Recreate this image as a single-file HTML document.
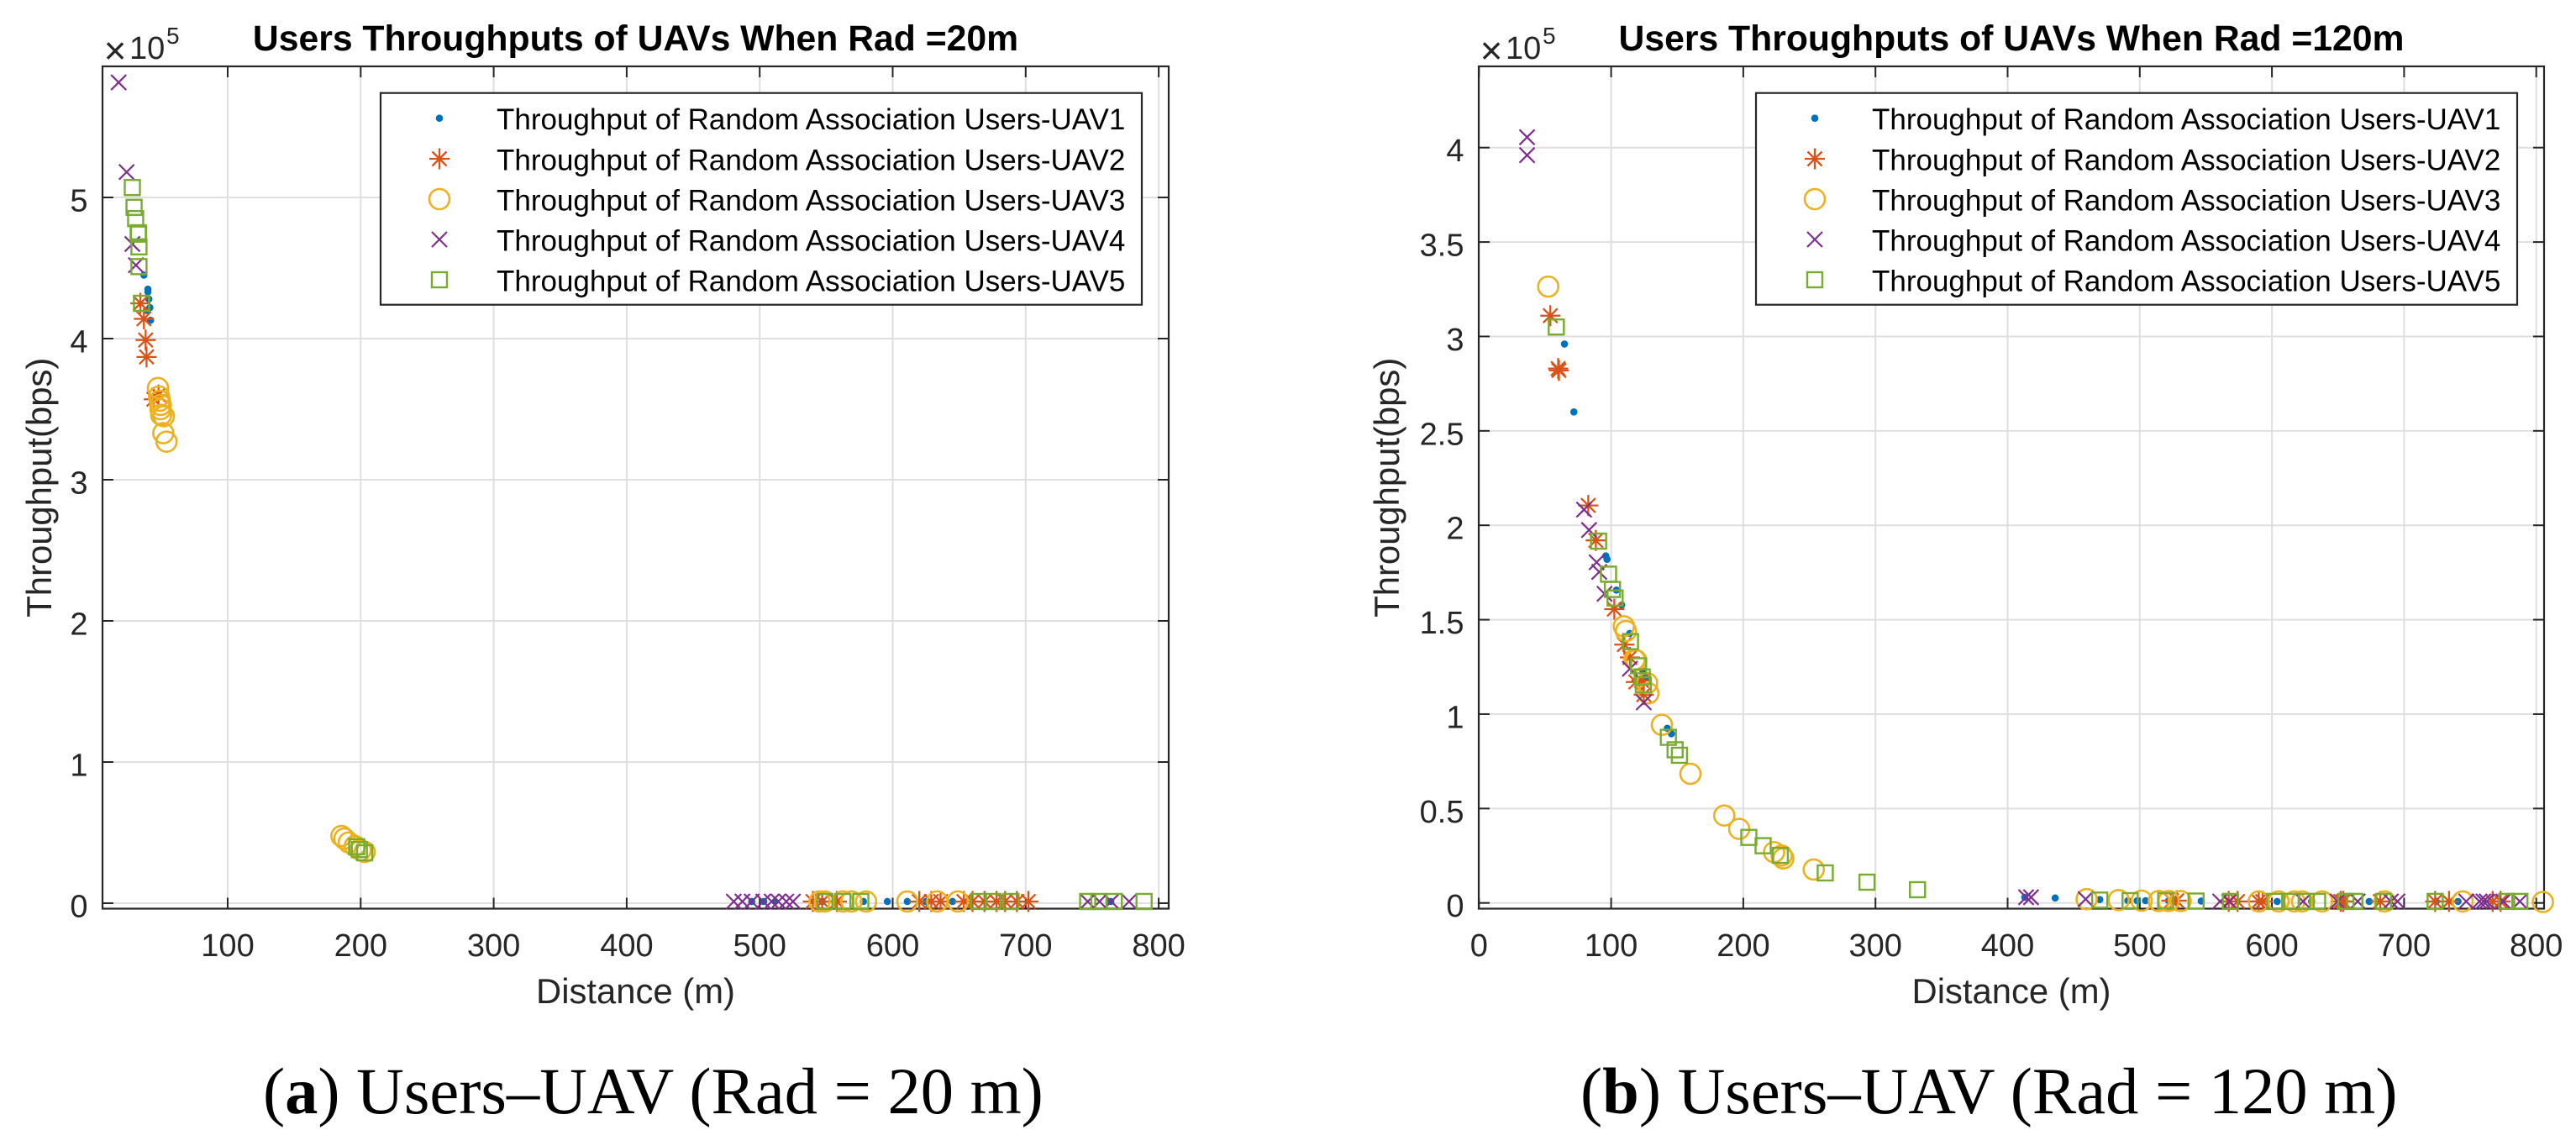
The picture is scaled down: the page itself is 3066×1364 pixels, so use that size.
<!DOCTYPE html>
<html lang="en">
<head>
<meta charset="utf-8">
<title>Users Throughputs of UAVs</title>
<style>
html,body{margin:0;padding:0;background:#fff;}
svg{display:block;}
text{font-family:"Liberation Sans",sans-serif;}
.cap{font-family:"Liberation Serif",serif;}
</style>
</head>
<body>
<svg id="figure" xmlns="http://www.w3.org/2000/svg" width="3066" height="1364" viewBox="0 0 3066 1364">
<rect width="3066" height="1364" fill="#fff"/>
<text class="cap" x="313" y="1325" font-size="78.5" fill="#000">(<tspan font-weight="bold">a</tspan>) Users–UAV (Rad = 20 m)</text>
<text class="cap" x="1881" y="1325" font-size="78.5" fill="#000">(<tspan font-weight="bold">b</tspan>) Users–UAV (Rad = 120 m)</text>
</svg>
<script>
// Tick labels
const leftXTicks = [100,200,300,400,500,600,700,800];
const leftYTicks = [0,1,2,3,4,5];
const rightXTicks = [0,100,200,300,400,500,600,700,800];
const rightYTicks = [0,0.5,1,1.5,2,2.5,3,3.5,4];
const legendLabels = [
  "Throughput of Random Association Users-UAV1",
  "Throughput of Random Association Users-UAV2",
  "Throughput of Random Association Users-UAV3",
  "Throughput of Random Association Users-UAV4",
  "Throughput of Random Association Users-UAV5"
];

// Panel (a): distance in m, throughput in units of 1e5 bps
const a1X = [37,40,40,40.7,41.5,42,39,494,503,511.6,547,578,596,611,625,645,764];
const a1Y = [4.45,4.35,4.33,4.28,4.22,4.13,4.2,0.012,0.012,0.012,0.012,0.012,0.012,0.012,0.012,0.012,0.012];
const a2X = [34.4,37,38.3,39,44.5,48,540,547,558,620,629,636,653.5,660,669,678,684.5,693.4,702];
const a2Y = [4.25,4.14,3.99,3.87,3.57,3.6,0.012,0.012,0.012,0.012,0.012,0.012,0.012,0.012,0.012,0.012,0.012,0.012,0.012];
const a3X = [47.6,48.4,49,49.7,49.5,50,52,51.6,54,185.5,187.7,191,195.6,200,203,545,549,562.5,569,580,611,633.5,649];
const a3Y = [3.65,3.59,3.56,3.53,3.5,3.46,3.45,3.33,3.27,0.476,0.458,0.43,0.405,0.375,0.363,0.012,0.012,0.012,0.012,0.012,0.012,0.012,0.012];
const a4X = [18,24,28.3,31,480.5,487,494,502.7,509,514,520,525,746.6,755.5,764.4,777.7];
const a4Y = [5.815,5.18,4.67,4.52,0.012,0.012,0.012,0.012,0.012,0.012,0.012,0.012,0.012,0.012,0.012,0.012];
const a5X = [28.3,29.6,30.8,32.7,33,33.3,33.3,35.2,197,199,203,549,562.5,576,664.5,675.5,689,746.6,755,766.6,789];
const a5Y = [5.07,4.93,4.85,4.75,4.74,4.65,4.51,4.25,0.40,0.38,0.357,0.012,0.012,0.012,0.012,0.012,0.012,0.012,0.012,0.012,0.012];

// Panel (b)
const b1X = [64.7,71.8,96,96.9,104,108,114,124,126,142.5,145.6,413,436,469.7,491,498,504.4,521.8,546.5,604,630,673.6,724.3,740.8];
const b1Y = [2.96,2.6,1.838,1.82,1.657,1.578,1.427,1.23,1.192,0.925,0.896,0.03,0.026,0.018,0.012,0.012,0.012,0.012,0.01,0.008,0.008,0.008,0.008,0.008];
const b2X = [54,59.9,60.5,82.7,88.4,102.4,110,114.2,118.7,123,124.7,524,528,567.3,574,590,593,652,654,682,723.5,734,767,773];
const b2Y = [3.11,2.83,2.82,2.105,1.92,1.556,1.368,1.30,1.17,1.178,1.103,0.012,0.012,0.008,0.008,0.008,0.008,0.008,0.008,0.008,0.008,0.008,0.008,0.008];
const b3X = [52.4,109.6,111.2,117.7,118.9,127.2,128.2,138.4,160,185.6,196.9,223.3,229,230.3,253.3,459.8,484,501.4,514.4,521.8,530.9,590,605,617,622.8,638,685.3,744.3,805];
const b3Y = [3.264,1.465,1.44,1.289,1.285,1.164,1.11,0.943,0.684,0.463,0.392,0.269,0.251,0.236,0.177,0.02,0.015,0.012,0.01,0.01,0.01,0.008,0.008,0.008,0.008,0.008,0.008,0.008,0.005];
const b4X = [36.4,36.4,79.5,83.3,89,91,95,114.2,124.7,414,417.7,459,560.8,568,623.6,649.7,664.9,690,695,747,757,760,762.5,775,787.6];
const b4Y = [4.055,3.96,2.083,1.975,1.804,1.753,1.637,1.24,1.062,0.03,0.03,0.02,0.008,0.008,0.008,0.008,0.008,0.008,0.008,0.008,0.008,0.008,0.008,0.008,0.008];
const b5X = [58.5,90.5,98,101,103,114.6,120.8,123.5,124.4,143.3,148.4,151.7,204.2,215,228,262,293.6,331.8,469.7,492.7,519.6,542.6,568.6,602,615,625.9,634.5,656,662.7,684.4,723.5,777.6,787.6];
const b5Y = [3.05,1.916,1.741,1.66,1.615,1.384,1.256,1.197,1.155,0.877,0.811,0.782,0.347,0.303,0.252,0.159,0.11,0.07,0.015,0.012,0.012,0.01,0.008,0.008,0.008,0.008,0.008,0.008,0.008,0.008,0.008,0.008,0.008];

const SVG_NS = "http://www.w3.org/2000/svg";
const figure = document.getElementById("figure");
const AXIS_COLOR = "#262626";
const GRID_COLOR = "#dfdfdf";
const MARKER_COLORS = ["#0072BD","#D95319","#EDB120","#7E2F8E","#77AC30"];
const MARKER_KINDS = ["dot","star","circle","cross","square"];

function make(tag, attrs, parent) {
  const el = document.createElementNS(SVG_NS, tag);
  for (const k in attrs) el.setAttribute(k, attrs[k]);
  parent.appendChild(el);
  return el;
}

function segment(g, x1, y1, x2, y2, color, w) {
  return make("line", {x1: x1, y1: y1, x2: x2, y2: y2, stroke: color, "stroke-width": w}, g);
}

function drawMarker(parent, kind, cx, cy, color) {
  const g = make("g", {}, parent);
  if (kind === "dot") {
    make("circle", {cx: cx, cy: cy, r: 4.3, fill: color}, g);
  } else if (kind === "circle") {
    make("circle", {cx: cx, cy: cy, r: 12, fill: "none", stroke: color, "stroke-width": 2.6}, g);
  } else if (kind === "square") {
    make("rect", {x: cx - 9, y: cy - 9, width: 18, height: 18, fill: "none", stroke: color, "stroke-width": 2.4}, g);
  } else if (kind === "cross") {
    segment(g, cx - 9, cy - 9, cx + 9, cy + 9, color, 2.2);
    segment(g, cx - 9, cy + 9, cx + 9, cy - 9, color, 2.2);
  } else {
    segment(g, cx - 12, cy, cx + 12, cy, color, 2.3);
    segment(g, cx, cy - 12.5, cx, cy + 12.5, color, 2.3);
    segment(g, cx - 8.5, cy - 8.5, cx + 8.5, cy + 8.5, color, 2.3);
    segment(g, cx - 8.5, cy + 8.5, cx + 8.5, cy - 8.5, color, 2.3);
  }
  return g;
}

function drawPanel(p) {
  const panel = make("g", {}, figure);
  
  
  const xAxis = v => p.xZero + p.xScale * v;
  const yAxis = v => p.yZero - p.yScale * v;

  // Grid
  const grid = make("g", {}, panel);
  
  
  p.xTicks.forEach(t => segment(grid, xAxis(t), p.top, xAxis(t), p.bottom, GRID_COLOR, 2));
  p.yTicks.forEach(t => segment(grid, p.left, yAxis(t), p.right, yAxis(t), GRID_COLOR, 2));

  // Tick marks
  const ticks = make("g", {}, panel);
  
  
  p.xTicks.forEach(t => {
    segment(ticks, xAxis(t), p.top, xAxis(t), p.top + 13, AXIS_COLOR, 2);
    segment(ticks, xAxis(t), p.bottom, xAxis(t), p.bottom - 13, AXIS_COLOR, 2);
  });
  p.yTicks.forEach(t => {
    segment(ticks, p.left, yAxis(t), p.left + 13, yAxis(t), AXIS_COLOR, 2);
    segment(ticks, p.right, yAxis(t), p.right - 13, yAxis(t), AXIS_COLOR, 2);
  });

  // Axes box
  const box = make("rect", {x: p.left, y: p.top, width: p.right - p.left, height: p.bottom - p.top, fill: "none", stroke: AXIS_COLOR, "stroke-width": 2.2}, panel);
  
  

  // Tick labels
  p.xTicks.forEach(t => {
    const el = make("text", {x: xAxis(t), y: 1138, "font-size": 38, fill: AXIS_COLOR, "text-anchor": "middle"}, panel);
    el.textContent = String(t);
    
    
  });
  p.yTicks.forEach(t => {
    const el = make("text", {x: p.left - 17.5, y: yAxis(t) + 16.5, "font-size": 38, fill: AXIS_COLOR, "text-anchor": "end"}, panel);
    el.textContent = String(t);
    
    
  });

  // Series
  p.series.forEach((s, i) => {
    const g = make("g", {}, panel);
    
    
    s.x.forEach((xv, j) => {
      const m = drawMarker(g, MARKER_KINDS[i], xAxis(xv), yAxis(s.y[j]), MARKER_COLORS[i]);
      
      
    });
  });

  // Exponent
  const exp = make("g", {fill: AXIS_COLOR}, panel);
  
  
  const times = make("text", {x: p.left + 1.6, y: 76, "font-size": 46}, exp);
  times.textContent = "×";
  const ten = make("text", {x: p.left + 32, y: 70, "font-size": 38}, exp);
  ten.textContent = "10";
  const five = make("text", {x: p.left + 76, y: 52, "font-size": 28}, exp);
  five.textContent = "5";

  // Title and axis labels
  const mid = (p.left + p.right) / 2;
  const title = make("text", {x: mid, y: 60, "font-size": 42.7, "font-weight": "bold", fill: "#000", "text-anchor": "middle"}, panel);
  title.textContent = p.title;
  
  
  const xLabel = make("text", {x: mid, y: 1194, "font-size": 41.8, fill: AXIS_COLOR, "text-anchor": "middle"}, panel);
  xLabel.textContent = "Distance (m)";
  
  
  const midY = (p.top + p.bottom) / 2;
  const yLabel = make("text", {x: p.yLabelX, y: midY, "font-size": 41.8, fill: AXIS_COLOR, "text-anchor": "middle", transform: "rotate(-90 " + p.yLabelX + " " + midY + ")"}, panel);
  yLabel.textContent = "Throughput(bps)";
  
  

  // Legend
  const legend = make("g", {}, panel);
  
  
  make("rect", {x: p.legendX, y: 110.7, width: 906, height: 252, fill: "#fff", stroke: AXIS_COLOR, "stroke-width": 2.2}, legend);
  const rowY = [140.7, 189, 237, 285, 333];
  legendLabels.forEach((label, i) => {
    const entry = make("g", {}, legend);
    
    
    drawMarker(entry, MARKER_KINDS[i], p.legendX + 70, rowY[i], MARKER_COLORS[i]);
    const t = make("text", {x: p.legendX + 138, y: rowY[i] + 13.5, "font-size": 35, fill: "#000"}, entry);
    t.textContent = label;
  });
}

drawPanel({
  id: "panel-a", title: "Users Throughputs of UAVs When Rad =20m",
  left: 122, right: 1391, top: 79, bottom: 1081.5,
  xZero: 112.7, xScale: 1.583, yZero: 1075, yScale: 168,
  xTicks: leftXTicks, yTicks: leftYTicks, yLabelX: 61, legendX: 453,
  series: [{x: a1X, y: a1Y},{x: a2X, y: a2Y},{x: a3X, y: a3Y},{x: a4X, y: a4Y},{x: a5X, y: a5Y}]
});
drawPanel({
  id: "panel-b", title: "Users Throughputs of UAVs When Rad =120m",
  left: 1760, right: 3028, top: 79, bottom: 1081.5,
  xZero: 1760.3, xScale: 1.573, yZero: 1074.7, yScale: 224.75,
  xTicks: rightXTicks, yTicks: rightYTicks, yLabelX: 1665, legendX: 2090,
  series: [{x: b1X, y: b1Y},{x: b2X, y: b2Y},{x: b3X, y: b3Y},{x: b4X, y: b4Y},{x: b5X, y: b5Y}]
});
</script>
</body>
</html>
